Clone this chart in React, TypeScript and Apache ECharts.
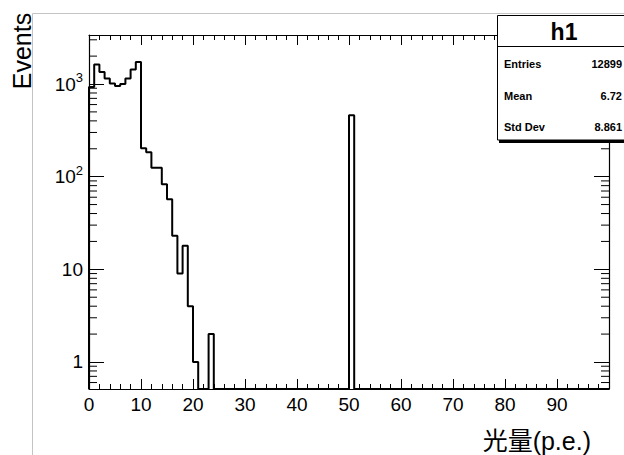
import { useEffect, useRef } from "react";
import * as echarts from "echarts";

// ---- data ----
const X_MIN = 0;
const X_MAX = 100;
const BIN_WIDTH = 1;
const COUNTS: number[] = [
  930, 1620, 1350, 1150, 1010, 950, 1000, 1150, 1430, 1730,
  202, 183, 125, 125, 83, 57, 23, 9, 18, 4,
  1, 0, 0, 2, 0, 0, 0, 0, 0, 0,
  0, 0, 0, 0, 0, 0, 0, 0, 0, 0,
  0, 0, 0, 0, 0, 0, 0, 0, 0, 0,
  460, 0, 0, 0, 0, 0, 0, 0, 0, 0,
  0, 0, 0, 0, 0, 0, 0, 0, 0, 0,
  0, 0, 0, 0, 0, 0, 0, 0, 0, 0,
  0, 0, 0, 0, 0, 0, 0, 0, 0, 0,
  0, 0, 0, 0, 0, 0, 0, 0, 0, 0,
];
const Y_MIN = 0.511;
const Y_MAX = 3380;
const X_TICK_INTERVAL = 10;
const Y_MINOR_TICKS: number[] = [
  0.6, 0.7, 0.8, 0.9,
  2, 3, 4, 5, 6, 7, 8, 9,
  20, 30, 40, 50, 60, 70, 80, 90,
  200, 300, 400, 500, 600, 700, 800, 900,
  2000, 3000,
];
const STATS_NAME = "h1";
const STATS_LABELS = ["Entries", "Mean", "Std Dev"];
const STATS_VALUES = ["12899", "6.72", "8.861"];
const X_TITLE = "光量(p.e.)";
const Y_TITLE = "Events";

const FONT = '"Liberation Sans", Arial, Helvetica, sans-serif';

function yLabel(v: number): string {
  const e = Math.round(Math.log10(v));
  if (e <= 0) return "{b|1}";
  if (e === 1) return "{b|10}";
  return "{b|10}{s|" + e + "}";
}

export default function App() {
  const ref = useRef<HTMLDivElement>(null);
  useEffect(() => {
    if (!ref.current) return;
    const chart = echarts.init(ref.current, undefined, { renderer: "svg" });

    const stepData: number[][] = [[X_MIN, Y_MIN]];
    COUNTS.forEach((c, i) => {
      stepData.push([X_MIN + i * BIN_WIDTH, c > 0 ? c : Y_MIN]);
    });
    stepData.push([X_MIN + COUNTS.length * BIN_WIDTH, Y_MIN]);

    const tickStyle = { color: "#000", width: 1 };
    const axisLineStyle = { color: "#000", width: 1.2 };

    const statsRowY = [64, 96, 127];
    const Z = 100;

    const option: any = {
      animation: false,
      backgroundColor: "#fff",
      grid: { left: 89, top: 35, width: 520, height: 354 },
      xAxis: [
        {
          type: "value",
          position: "bottom",
          min: X_MIN,
          max: X_MAX,
          interval: X_TICK_INTERVAL,
          axisLine: { show: true, onZero: false, lineStyle: axisLineStyle },
          axisTick: { show: true, inside: true, length: 10, lineStyle: tickStyle },
          minorTick: { show: true, splitNumber: 5, length: 5, lineStyle: tickStyle },
          splitLine: { show: false },
          minorSplitLine: { show: false },
          axisLabel: {
            show: true,
            color: "#000",
            fontFamily: FONT,
            fontSize: 19,
            margin: 6,
            showMaxLabel: false,
          },
        },
        {
          type: "value",
          position: "top",
          min: X_MIN,
          max: X_MAX,
          interval: X_TICK_INTERVAL,
          axisLine: { show: true, onZero: false, lineStyle: axisLineStyle },
          axisTick: { show: true, inside: true, length: 10, lineStyle: tickStyle },
          minorTick: { show: true, splitNumber: 5, length: 5, lineStyle: tickStyle },
          splitLine: { show: false },
          axisLabel: { show: false },
        },
      ],
      yAxis: [
        {
          type: "log",
          logBase: 10,
          position: "left",
          min: Y_MIN,
          max: Y_MAX,
          axisLine: { show: true, onZero: false, lineStyle: axisLineStyle },
          axisTick: { show: true, inside: true, length: 15, lineStyle: tickStyle },
          splitLine: { show: false },
          axisLabel: {
            show: true,
            color: "#000",
            fontFamily: FONT,
            fontSize: 19,
            margin: 6,
            showMinLabel: false,
            showMaxLabel: false,
            formatter: (v: number) => yLabel(v),
            rich: {
              b: { fontFamily: FONT, fontSize: 19, color: "#000", lineHeight: 26 },
              s: { fontFamily: FONT, fontSize: 13, color: "#000", verticalAlign: "top", lineHeight: 13 },
            },
          },
        },
        {
          type: "log",
          logBase: 10,
          position: "right",
          min: Y_MIN,
          max: Y_MAX,
          axisLine: { show: true, onZero: false, lineStyle: axisLineStyle },
          axisTick: { show: true, inside: true, length: 15, lineStyle: tickStyle },
          splitLine: { show: false },
          axisLabel: { show: false },
        },
      ],
      series: [
        {
          type: "line",
          xAxisIndex: 0,
          yAxisIndex: 0,
          step: "end",
          symbol: "none",
          clip: false,
          data: stepData,
          lineStyle: { color: "#000", width: 2 },
          z: 3,
        },
        {
          type: "custom",
          xAxisIndex: 0,
          yAxisIndex: 0,
          coordinateSystem: "cartesian2d",
          data: Y_MINOR_TICKS.map((v) => [X_MIN, v]),
          renderItem: (_params: any, api: any) => {
            const v = api.value(1);
            const l = api.coord([X_MIN, v]);
            const r = api.coord([X_MAX, v]);
            return {
              type: "group",
              children: [
                {
                  type: "line",
                  shape: { x1: l[0], y1: l[1], x2: l[0] + 8, y2: l[1] },
                  style: { stroke: "#000", lineWidth: 1 },
                },
                {
                  type: "line",
                  shape: { x1: r[0] - 8, y1: r[1], x2: r[0], y2: r[1] },
                  style: { stroke: "#000", lineWidth: 1 },
                },
              ],
            };
          },
          z: 2,
        },
      ],
      graphic: [
        {
          type: "line",
          shape: { x1: 32.5, y1: 13.5, x2: 32.5, y2: 455 },
          style: { stroke: "#c4c4c4", lineWidth: 1 },
          z: 1,
        },
        {
          type: "line",
          shape: { x1: 32.5, y1: 13.5, x2: 624, y2: 13.5 },
          style: { stroke: "#c4c4c4", lineWidth: 1 },
          z: 1,
        },
        {
          type: "text",
          x: 22,
          y: 51,
          rotation: Math.PI / 2,
          style: {
            text: Y_TITLE,
            font: '25px "Liberation Sans", Arial, sans-serif',
            fill: "#000",
            align: "center",
            verticalAlign: "middle",
          },
        },
        {
          type: "text",
          x: 591,
          y: 441,
          style: {
            text: X_TITLE,
            font: '25px "Liberation Sans", "Noto Sans CJK JP", sans-serif',
            fill: "#000",
            align: "right",
            verticalAlign: "middle",
          },
        },
        {
          type: "rect",
          z: Z,
          shape: { x: 499, y: 18, width: 134, height: 125 },
          style: { fill: "#000" },
        },
        {
          type: "rect",
          z: Z + 1,
          shape: { x: 497.5, y: 15.5, width: 134, height: 124.5 },
          style: { fill: "#fff", stroke: "#000", lineWidth: 1 },
        },
        {
          type: "line",
          z: Z + 2,
          shape: { x1: 497.5, y1: 46.5, x2: 631.5, y2: 46.5 },
          style: { stroke: "#000", lineWidth: 1 },
        },
        {
          type: "text",
          z: Z + 2,
          x: 564,
          y: 32,
          style: {
            text: STATS_NAME,
            font: 'bold 23px "Liberation Sans", Arial, sans-serif',
            fill: "#000",
            align: "center",
            verticalAlign: "middle",
          },
        },
        ...STATS_LABELS.map((lab, i) => ({
          type: "text",
          z: Z + 2,
          x: 504,
          y: statsRowY[i],
          style: {
            text: lab,
            font: 'bold 11px "Liberation Sans", Arial, sans-serif',
            fill: "#000",
            align: "left",
            verticalAlign: "middle",
          },
        })),
        ...STATS_VALUES.map((val, i) => ({
          type: "text",
          z: Z + 2,
          x: 622,
          y: statsRowY[i],
          style: {
            text: val,
            font: 'bold 11px "Liberation Sans", Arial, sans-serif',
            fill: "#000",
            align: "right",
            verticalAlign: "middle",
          },
        })),
      ],
    };

    chart.setOption(option);
    return () => chart.dispose();
  }, []);

  return (
    <div
      ref={ref}
      style={{ position: "fixed", left: 0, top: 0, width: 624, height: 455 }}
    />
  );
}
